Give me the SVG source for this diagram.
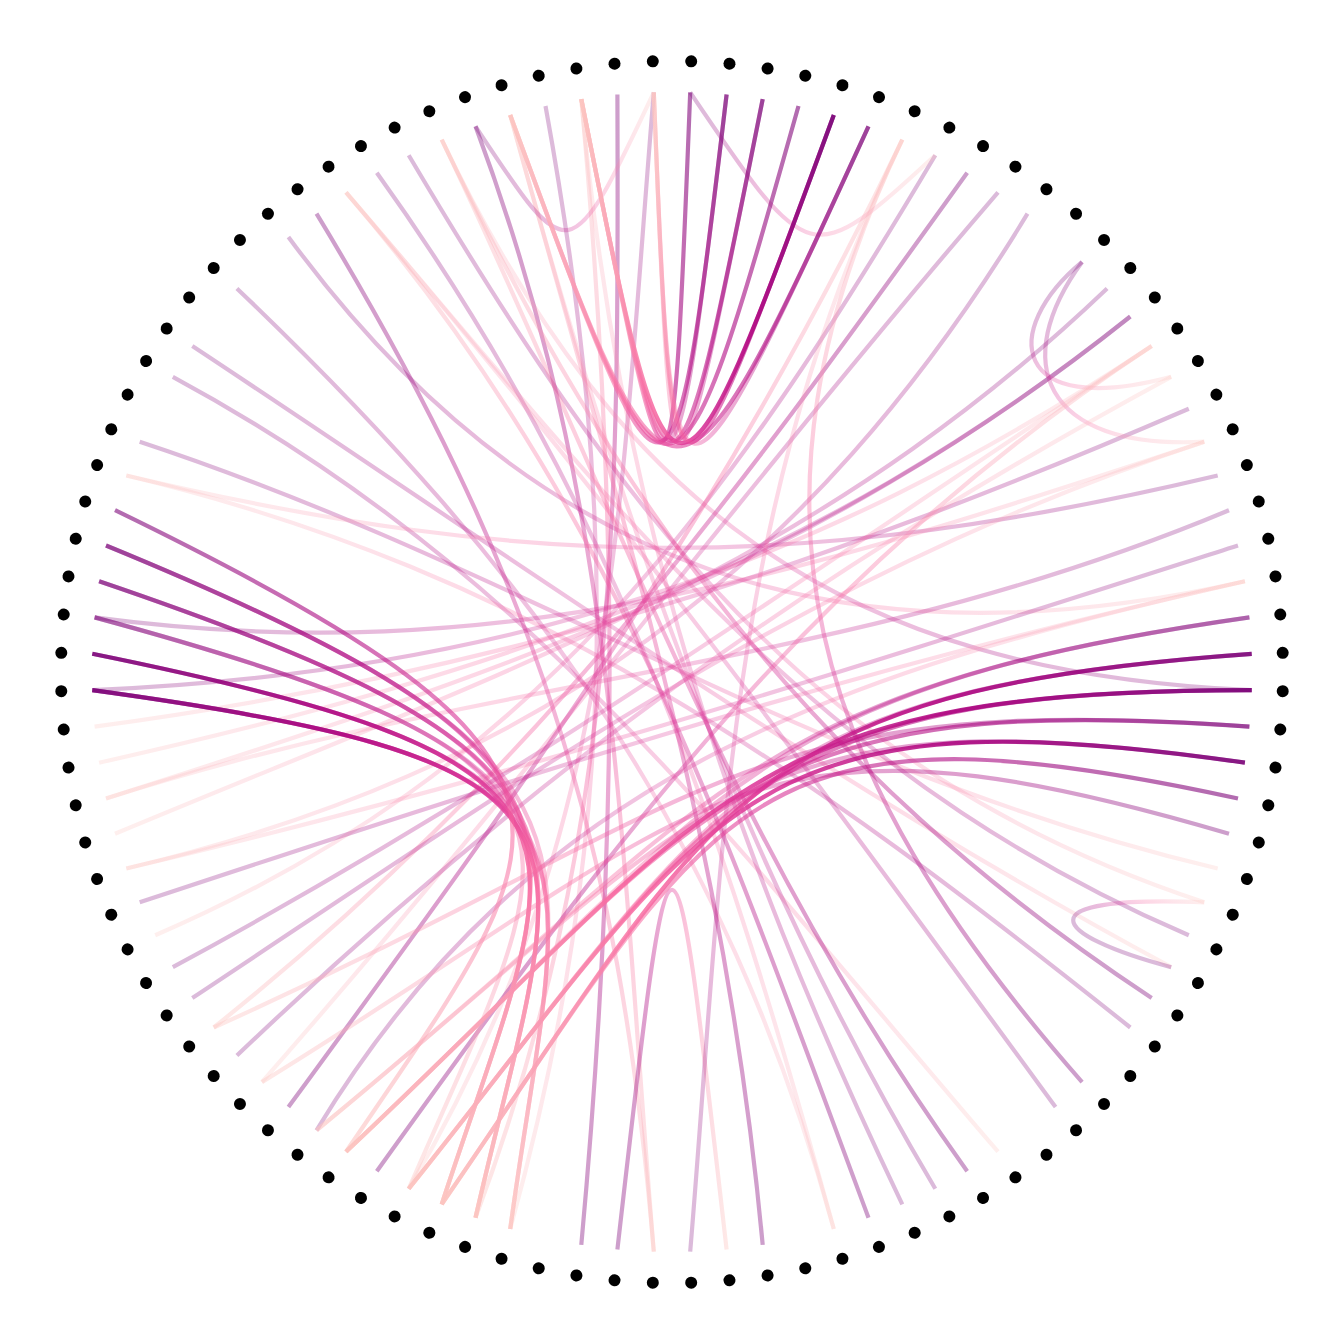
<svg xmlns="http://www.w3.org/2000/svg" width="1344" height="1344" viewBox="0 0 1344 1344">
<style>
.e{fill:none;stroke-width:4.2}
.o1{stroke-opacity:.27}.o2{stroke-opacity:.38}.o3{stroke-opacity:.58}.o4{stroke-opacity:.85}
.dot{fill:#000}
</style>
<defs>
<linearGradient id="rp" gradientUnits="userSpaceOnUse">
<stop offset="0" stop-color="#7a0177"/><stop offset=".28" stop-color="#ae017e"/><stop offset=".48" stop-color="#dd3497"/><stop offset=".64" stop-color="#f768a1"/><stop offset=".82" stop-color="#fa9fb5"/><stop offset="1" stop-color="#fcc5c0"/>
</linearGradient>
<circle id="dot" class="dot" cx="1283" cy="672" r="6"/>
<linearGradient id="ge1" href="#rp" gradientUnits="userSpaceOnUse" x1="139.7" y1="441.7" x2="1217.7" y2="868.5"/>
<linearGradient id="ge2" href="#rp" gradientUnits="userSpaceOnUse" x1="172.8" y1="376.8" x2="998" y2="1151.7"/>
<linearGradient id="ge3" href="#rp" gradientUnits="userSpaceOnUse" x1="192.3" y1="346" x2="1171.2" y2="967.2"/>
<linearGradient id="ge4" href="#rp" gradientUnits="userSpaceOnUse" x1="236.9" y1="288.4" x2="833.8" y2="1229"/>
<linearGradient id="ge5" href="#rp" gradientUnits="userSpaceOnUse" x1="288.4" y1="236.9" x2="1244.9" y2="581.3"/>
<linearGradient id="ge6" href="#rp" gradientUnits="userSpaceOnUse" x1="316.5" y1="213.7" x2="653.8" y2="1251.7"/>
<linearGradient id="ge7" href="#rp" gradientUnits="userSpaceOnUse" x1="376.8" y1="172.8" x2="833.8" y2="1229"/>
<linearGradient id="ge8" href="#rp" gradientUnits="userSpaceOnUse" x1="408.7" y1="155.2" x2="1204.3" y2="902.3"/>
<linearGradient id="ge9" href="#rp" gradientUnits="userSpaceOnUse" x1="475.5" y1="126.3" x2="653.8" y2="1251.7"/>
<linearGradient id="ge10" href="#rp" gradientUnits="userSpaceOnUse" x1="545.5" y1="106" x2="510.2" y2="1229"/>
<linearGradient id="ge11" href="#rp" gradientUnits="userSpaceOnUse" x1="617.4" y1="94.6" x2="475.5" y2="1217.7"/>
<linearGradient id="ge12" href="#rp" gradientUnits="userSpaceOnUse" x1="653.8" y1="92.3" x2="408.7" y2="1188.8"/>
<linearGradient id="ge13" href="#rp" gradientUnits="userSpaceOnUse" x1="935.3" y1="155.2" x2="155.2" y2="935.3"/>
<linearGradient id="ge14" href="#rp" gradientUnits="userSpaceOnUse" x1="967.2" y1="172.8" x2="213.7" y2="1027.5"/>
<linearGradient id="ge15" href="#rp" gradientUnits="userSpaceOnUse" x1="998" y1="192.3" x2="261.9" y2="1082.1"/>
<linearGradient id="ge16" href="#rp" gradientUnits="userSpaceOnUse" x1="1027.5" y1="213.7" x2="126.3" y2="868.5"/>
<linearGradient id="ge17" href="#rp" gradientUnits="userSpaceOnUse" x1="1107.1" y1="288.4" x2="115" y2="833.8"/>
<linearGradient id="ge18" href="#rp" gradientUnits="userSpaceOnUse" x1="1130.3" y1="316.5" x2="99.1" y2="762.7"/>
<linearGradient id="ge19" href="#rp" gradientUnits="userSpaceOnUse" x1="1188.8" y1="408.7" x2="94.6" y2="726.6"/>
<linearGradient id="ge20" href="#rp" gradientUnits="userSpaceOnUse" x1="1130.3" y1="316.5" x2="106" y2="798.5"/>
<linearGradient id="ge21" href="#rp" gradientUnits="userSpaceOnUse" x1="1082.1" y1="261.9" x2="1171.2" y2="376.8"/>
<linearGradient id="ge22" href="#rp" gradientUnits="userSpaceOnUse" x1="1082.1" y1="261.9" x2="1204.3" y2="441.7"/>
<linearGradient id="ge23" href="#rp" gradientUnits="userSpaceOnUse" x1="1217.7" y1="475.5" x2="126.3" y2="475.5"/>
<linearGradient id="ge24" href="#rp" gradientUnits="userSpaceOnUse" x1="1229" y1="510.2" x2="106" y2="798.5"/>
<linearGradient id="ge25" href="#rp" gradientUnits="userSpaceOnUse" x1="1238" y1="545.5" x2="126.3" y2="868.5"/>
<linearGradient id="ge26" href="#rp" gradientUnits="userSpaceOnUse" x1="1251.7" y1="690.2" x2="441.7" y2="139.7"/>
<linearGradient id="ge27" href="#rp" gradientUnits="userSpaceOnUse" x1="1188.8" y1="935.3" x2="346" y2="192.3"/>
<linearGradient id="ge28" href="#rp" gradientUnits="userSpaceOnUse" x1="1151.7" y1="998" x2="441.7" y2="139.7"/>
<linearGradient id="ge29" href="#rp" gradientUnits="userSpaceOnUse" x1="1130.3" y1="1027.5" x2="126.3" y2="475.5"/>
<linearGradient id="ge30" href="#rp" gradientUnits="userSpaceOnUse" x1="1082.1" y1="1082.1" x2="902.3" y2="139.7"/>
<linearGradient id="ge31" href="#rp" gradientUnits="userSpaceOnUse" x1="1055.6" y1="1107.1" x2="346" y2="192.3"/>
<linearGradient id="ge32" href="#rp" gradientUnits="userSpaceOnUse" x1="967.2" y1="1171.2" x2="441.7" y2="139.7"/>
<linearGradient id="ge33" href="#rp" gradientUnits="userSpaceOnUse" x1="935.3" y1="1188.8" x2="510.2" y2="115"/>
<linearGradient id="ge34" href="#rp" gradientUnits="userSpaceOnUse" x1="902.3" y1="1204.3" x2="581.3" y2="99.1"/>
<linearGradient id="ge35" href="#rp" gradientUnits="userSpaceOnUse" x1="868.5" y1="1217.7" x2="346" y2="192.3"/>
<linearGradient id="ge36" href="#rp" gradientUnits="userSpaceOnUse" x1="762.7" y1="1244.9" x2="510.2" y2="115"/>
<linearGradient id="ge37" href="#rp" gradientUnits="userSpaceOnUse" x1="617.4" y1="1249.4" x2="726.6" y2="1249.4"/>
<linearGradient id="ge38" href="#rp" gradientUnits="userSpaceOnUse" x1="690.2" y1="1251.7" x2="902.3" y2="139.7"/>
<linearGradient id="ge39" href="#rp" gradientUnits="userSpaceOnUse" x1="581.3" y1="1244.9" x2="581.3" y2="99.1"/>
<linearGradient id="ge40" href="#rp" gradientUnits="userSpaceOnUse" x1="376.8" y1="1171.2" x2="1151.7" y2="346"/>
<linearGradient id="ge41" href="#rp" gradientUnits="userSpaceOnUse" x1="288.4" y1="1107.1" x2="902.3" y2="139.7"/>
<linearGradient id="ge42" href="#rp" gradientUnits="userSpaceOnUse" x1="316.5" y1="1130.3" x2="1244.9" y2="581.3"/>
<linearGradient id="ge43" href="#rp" gradientUnits="userSpaceOnUse" x1="236.9" y1="1055.6" x2="1171.2" y2="376.8"/>
<linearGradient id="ge44" href="#rp" gradientUnits="userSpaceOnUse" x1="192.3" y1="998" x2="1204.3" y2="441.7"/>
<linearGradient id="ge45" href="#rp" gradientUnits="userSpaceOnUse" x1="172.8" y1="967.2" x2="1151.7" y2="346"/>
<linearGradient id="ge46" href="#rp" gradientUnits="userSpaceOnUse" x1="139.7" y1="902.3" x2="1244.9" y2="581.3"/>
<linearGradient id="ge47" href="#rp" gradientUnits="userSpaceOnUse" x1="92.3" y1="690.2" x2="1151.7" y2="346"/>
<linearGradient id="ge48" href="#rp" gradientUnits="userSpaceOnUse" x1="94.6" y1="617.4" x2="1204.3" y2="441.7"/>
<linearGradient id="ge49" href="#rp" gradientUnits="userSpaceOnUse" x1="690.2" y1="92.3" x2="935.3" y2="155.2"/>
<linearGradient id="ge50" href="#rp" gradientUnits="userSpaceOnUse" x1="475.5" y1="126.3" x2="653.8" y2="92.3"/>
<linearGradient id="ge51" href="#rp" gradientUnits="userSpaceOnUse" x1="1171.2" y1="967.2" x2="1204.3" y2="902.3"/>
<linearGradient id="gu1" href="#rp" gradientUnits="userSpaceOnUse" x1="690.2" y1="92.3" x2="581.3" y2="99.1"/>
<linearGradient id="gu2" href="#rp" gradientUnits="userSpaceOnUse" x1="726.6" y1="94.6" x2="510.2" y2="115"/>
<linearGradient id="gu3" href="#rp" gradientUnits="userSpaceOnUse" x1="762.7" y1="99.1" x2="581.3" y2="99.1"/>
<linearGradient id="gu4" href="#rp" gradientUnits="userSpaceOnUse" x1="798.5" y1="106" x2="510.2" y2="115"/>
<linearGradient id="gu5" href="#rp" gradientUnits="userSpaceOnUse" x1="833.8" y1="115" x2="581.3" y2="99.1"/>
<linearGradient id="gu6" href="#rp" gradientUnits="userSpaceOnUse" x1="833.8" y1="115" x2="653.8" y2="92.3"/>
<linearGradient id="gu7" href="#rp" gradientUnits="userSpaceOnUse" x1="868.5" y1="126.3" x2="510.2" y2="115"/>
<linearGradient id="gu8" href="#rp" gradientUnits="userSpaceOnUse" x1="762.7" y1="99.1" x2="653.8" y2="92.3"/>
<linearGradient id="gu9" href="#rp" gradientUnits="userSpaceOnUse" x1="726.6" y1="94.6" x2="581.3" y2="99.1"/>
<linearGradient id="gu10" href="#rp" gradientUnits="userSpaceOnUse" x1="868.5" y1="126.3" x2="653.8" y2="92.3"/>
<linearGradient id="gl1" href="#rp" gradientUnits="userSpaceOnUse" x1="92.3" y1="690.2" x2="475.5" y2="1217.7"/>
<linearGradient id="gl2" href="#rp" gradientUnits="userSpaceOnUse" x1="92.3" y1="690.2" x2="510.2" y2="1229"/>
<linearGradient id="gl3" href="#rp" gradientUnits="userSpaceOnUse" x1="92.3" y1="653.8" x2="441.7" y2="1204.3"/>
<linearGradient id="gl4" href="#rp" gradientUnits="userSpaceOnUse" x1="92.3" y1="653.8" x2="510.2" y2="1229"/>
<linearGradient id="gl5" href="#rp" gradientUnits="userSpaceOnUse" x1="94.6" y1="617.4" x2="408.7" y2="1188.8"/>
<linearGradient id="gl6" href="#rp" gradientUnits="userSpaceOnUse" x1="99.1" y1="581.3" x2="475.5" y2="1217.7"/>
<linearGradient id="gl7" href="#rp" gradientUnits="userSpaceOnUse" x1="106" y1="545.5" x2="441.7" y2="1204.3"/>
<linearGradient id="gl8" href="#rp" gradientUnits="userSpaceOnUse" x1="106" y1="545.5" x2="510.2" y2="1229"/>
<linearGradient id="gl9" href="#rp" gradientUnits="userSpaceOnUse" x1="115" y1="510.2" x2="346" y2="1151.7"/>
<linearGradient id="gl10" href="#rp" gradientUnits="userSpaceOnUse" x1="94.6" y1="617.4" x2="475.5" y2="1217.7"/>
<linearGradient id="gl11" href="#rp" gradientUnits="userSpaceOnUse" x1="99.1" y1="581.3" x2="441.7" y2="1204.3"/>
<linearGradient id="gr1" href="#rp" gradientUnits="userSpaceOnUse" x1="1251.7" y1="690.2" x2="346" y2="1151.7"/>
<linearGradient id="gr2" href="#rp" gradientUnits="userSpaceOnUse" x1="1251.7" y1="690.2" x2="408.7" y2="1188.8"/>
<linearGradient id="gr3" href="#rp" gradientUnits="userSpaceOnUse" x1="1251.7" y1="653.8" x2="441.7" y2="1204.3"/>
<linearGradient id="gr4" href="#rp" gradientUnits="userSpaceOnUse" x1="1249.4" y1="726.6" x2="346" y2="1151.7"/>
<linearGradient id="gr5" href="#rp" gradientUnits="userSpaceOnUse" x1="1244.9" y1="762.7" x2="408.7" y2="1188.8"/>
<linearGradient id="gr6" href="#rp" gradientUnits="userSpaceOnUse" x1="1249.4" y1="617.4" x2="316.5" y2="1130.3"/>
<linearGradient id="gr7" href="#rp" gradientUnits="userSpaceOnUse" x1="1238" y1="798.5" x2="441.7" y2="1204.3"/>
<linearGradient id="gr8" href="#rp" gradientUnits="userSpaceOnUse" x1="1229" y1="833.8" x2="261.9" y2="1082.1"/>
<linearGradient id="gr9" href="#rp" gradientUnits="userSpaceOnUse" x1="1251.7" y1="653.8" x2="408.7" y2="1188.8"/>
<linearGradient id="gr10" href="#rp" gradientUnits="userSpaceOnUse" x1="1249.4" y1="726.6" x2="213.7" y2="1027.5"/>
<linearGradient id="gr11" href="#rp" gradientUnits="userSpaceOnUse" x1="1249.4" y1="617.4" x2="346" y2="1151.7"/>
<linearGradient id="gr12" href="#rp" gradientUnits="userSpaceOnUse" x1="1244.9" y1="762.7" x2="316.5" y2="1130.3"/>
</defs>
<rect width="1344" height="1344" fill="#fff"/>
<g id="connectors">
<path class="e o1" stroke="url(#ge1)" d="M139.7,441.7C534,572 810,772 1217.7,868.5"/>
<path class="e o1" stroke="url(#ge2)" d="M172.8,376.8C534,572 725,834 998,1151.7"/>
<path class="e o1" stroke="url(#ge3)" d="M192.3,346C534,572 810,772 1171.2,967.2"/>
<path class="e o1" stroke="url(#ge4)" d="M236.9,288.4C534,572 725,834 833.8,1229"/>
<path class="e o1" stroke="url(#ge5)" d="M288.4,236.9C534,572 842,672 1244.9,581.3"/>
<path class="e o2" stroke="url(#ge6)" d="M316.5,213.7C534,572 619,834 653.8,1251.7"/>
<path class="e o1" stroke="url(#ge7)" d="M376.8,172.8C619,510 725,834 833.8,1229"/>
<path class="e o1" stroke="url(#ge8)" d="M408.7,155.2C619,510 810,772 1204.3,902.3"/>
<path class="e o2" stroke="url(#ge9)" d="M475.5,126.3C619,510 619,834 653.8,1251.7"/>
<path class="e o1" stroke="url(#ge10)" d="M545.5,106C619,510 619,834 510.2,1229"/>
<path class="e o2" stroke="url(#ge11)" d="M617.4,94.6C619,510 619,834 475.5,1217.7"/>
<path class="e o1" stroke="url(#ge12)" d="M653.8,92.3C619,510 619,834 408.7,1188.8"/>
<path class="e o1" stroke="url(#ge13)" d="M935.3,155.2C725,510 534,772 155.2,935.3"/>
<path class="e o2" stroke="url(#ge14)" d="M967.2,172.8C725,510 534,772 213.7,1027.5"/>
<path class="e o1" stroke="url(#ge15)" d="M998,192.3C725,510 534,772 261.9,1082.1"/>
<path class="e o1" stroke="url(#ge16)" d="M1027.5,213.7C810,572 534,772 126.3,868.5"/>
<path class="e o1" stroke="url(#ge17)" d="M1107.1,288.4C810,572 502,672 115,833.8"/>
<path class="e o1" stroke="url(#ge18)" d="M1130.3,316.5C810,572 502,672 99.1,762.7"/>
<path class="e o1" stroke="url(#ge19)" d="M1188.8,408.7C810,572 502,672 94.6,726.6"/>
<path class="e o1" stroke="url(#ge20)" d="M1130.3,316.5C810,572 502,672 106,798.5"/>
<path class="e o1" stroke="url(#ge21)" d="M1082.1,261.9C1000,330 1010,420 1171.2,376.8"/>
<path class="e o1" stroke="url(#ge22)" d="M1082.1,261.9C1010,360 1040,450 1204.3,441.7"/>
<path class="e o1" stroke="url(#ge23)" d="M1217.7,475.5C810,572 534,572 126.3,475.5"/>
<path class="e o1" stroke="url(#ge24)" d="M1229,510.2C842,672 502,672 106,798.5"/>
<path class="e o1" stroke="url(#ge25)" d="M1238,545.5C842,672 534,772 126.3,868.5"/>
<path class="e o1" stroke="url(#ge26)" d="M1251.7,690.2C842,672 619,510 441.7,139.7"/>
<path class="e o1" stroke="url(#ge27)" d="M1188.8,935.3C810,772 619,510 346,192.3"/>
<path class="e o2" stroke="url(#ge28)" d="M1151.7,998C810,772 619,510 441.7,139.7"/>
<path class="e o1" stroke="url(#ge29)" d="M1130.3,1027.5C810,772 534,572 126.3,475.5"/>
<path class="e o2" stroke="url(#ge30)" d="M1082.1,1082.1C810,772 725,510 902.3,139.7"/>
<path class="e o1" stroke="url(#ge31)" d="M1055.6,1107.1C810,772 619,510 346,192.3"/>
<path class="e o2" stroke="url(#ge32)" d="M967.2,1171.2C725,834 619,510 441.7,139.7"/>
<path class="e o1" stroke="url(#ge33)" d="M935.3,1188.8C725,834 619,510 510.2,115"/>
<path class="e o1" stroke="url(#ge34)" d="M902.3,1204.3C725,834 619,510 581.3,99.1"/>
<path class="e o2" stroke="url(#ge35)" d="M868.5,1217.7C725,834 619,510 346,192.3"/>
<path class="e o2" stroke="url(#ge36)" d="M762.7,1244.9C725,834 619,510 510.2,115"/>
<path class="e o2" stroke="url(#ge37)" d="M617.4,1249.4C672,770 672,770 726.6,1249.4"/>
<path class="e o1" stroke="url(#ge38)" d="M690.2,1251.7C725,834 725,510 902.3,139.7"/>
<path class="e o2" stroke="url(#ge39)" d="M581.3,1244.9C619,834 619,510 581.3,99.1"/>
<path class="e o2" stroke="url(#ge40)" d="M376.8,1171.2C619,834 810,572 1151.7,346"/>
<path class="e o2" stroke="url(#ge41)" d="M288.4,1107.1C534,772 725,510 902.3,139.7"/>
<path class="e o1" stroke="url(#ge42)" d="M316.5,1130.3C534,772 842,672 1244.9,581.3"/>
<path class="e o1" stroke="url(#ge43)" d="M236.9,1055.6C534,772 810,572 1171.2,376.8"/>
<path class="e o1" stroke="url(#ge44)" d="M192.3,998C534,772 810,572 1204.3,441.7"/>
<path class="e o1" stroke="url(#ge45)" d="M172.8,967.2C534,772 810,572 1151.7,346"/>
<path class="e o1" stroke="url(#ge46)" d="M139.7,902.3C534,772 842,672 1244.9,581.3"/>
<path class="e o1" stroke="url(#ge47)" d="M92.3,690.2C502,672 810,572 1151.7,346"/>
<path class="e o1" stroke="url(#ge48)" d="M94.6,617.4C502,672 810,572 1204.3,441.7"/>
<path class="e o1" stroke="url(#ge49)" d="M690.2,92.3C810,270 810,270 935.3,155.2"/>
<path class="e o1" stroke="url(#ge50)" d="M475.5,126.3C570,270 570,270 653.8,92.3"/>
<path class="e o1" stroke="url(#ge51)" d="M1171.2,967.2C1050,935 1020,895 1204.3,902.3"/>
<path class="e o3" stroke="url(#gu1)" d="M690.2,92.3C672,555 672,555 581.3,99.1"/>
<path class="e o3" stroke="url(#gu2)" d="M726.6,94.6C672,555 672,555 510.2,115"/>
<path class="e o3" stroke="url(#gu3)" d="M762.7,99.1C672,555 672,555 581.3,99.1"/>
<path class="e o3" stroke="url(#gu4)" d="M798.5,106C672,555 672,555 510.2,115"/>
<path class="e o4" stroke="url(#gu5)" d="M833.8,115C672,555 672,555 581.3,99.1"/>
<path class="e o3" stroke="url(#gu6)" d="M833.8,115C672,555 672,555 653.8,92.3"/>
<path class="e o3" stroke="url(#gu7)" d="M868.5,126.3C672,555 672,555 510.2,115"/>
<path class="e o2" stroke="url(#gu8)" d="M762.7,99.1C672,555 672,555 653.8,92.3"/>
<path class="e o2" stroke="url(#gu9)" d="M726.6,94.6C672,555 672,555 581.3,99.1"/>
<path class="e o2" stroke="url(#gu10)" d="M868.5,126.3C672,555 672,555 653.8,92.3"/>
<path class="e o4" stroke="url(#gl1)" d="M92.3,690.2C640,765 565,830 475.5,1217.7"/>
<path class="e o3" stroke="url(#gl2)" d="M92.3,690.2C640,765 565,830 510.2,1229"/>
<path class="e o4" stroke="url(#gl3)" d="M92.3,653.8C640,765 565,830 441.7,1204.3"/>
<path class="e o2" stroke="url(#gl4)" d="M92.3,653.8C640,765 565,830 510.2,1229"/>
<path class="e o2" stroke="url(#gl5)" d="M94.6,617.4C640,765 565,830 408.7,1188.8"/>
<path class="e o3" stroke="url(#gl6)" d="M99.1,581.3C640,765 565,830 475.5,1217.7"/>
<path class="e o3" stroke="url(#gl7)" d="M106,545.5C640,765 565,830 441.7,1204.3"/>
<path class="e o2" stroke="url(#gl8)" d="M106,545.5C640,765 565,830 510.2,1229"/>
<path class="e o3" stroke="url(#gl9)" d="M115,510.2C640,765 565,830 346,1151.7"/>
<path class="e o2" stroke="url(#gl10)" d="M94.6,617.4C640,765 565,830 475.5,1217.7"/>
<path class="e o2" stroke="url(#gl11)" d="M99.1,581.3C640,765 565,830 441.7,1204.3"/>
<path class="e o4" stroke="url(#gr1)" d="M1251.7,690.2C740,690 720,800 346,1151.7"/>
<path class="e o3" stroke="url(#gr2)" d="M1251.7,690.2C740,690 720,800 408.7,1188.8"/>
<path class="e o4" stroke="url(#gr3)" d="M1251.7,653.8C740,690 720,800 441.7,1204.3"/>
<path class="e o3" stroke="url(#gr4)" d="M1249.4,726.6C740,690 720,800 346,1151.7"/>
<path class="e o4" stroke="url(#gr5)" d="M1244.9,762.7C740,690 720,800 408.7,1188.8"/>
<path class="e o2" stroke="url(#gr6)" d="M1249.4,617.4C740,690 720,800 316.5,1130.3"/>
<path class="e o3" stroke="url(#gr7)" d="M1238,798.5C740,690 720,800 441.7,1204.3"/>
<path class="e o2" stroke="url(#gr8)" d="M1229,833.8C740,690 720,800 261.9,1082.1"/>
<path class="e o2" stroke="url(#gr9)" d="M1251.7,653.8C740,690 720,800 408.7,1188.8"/>
<path class="e o2" stroke="url(#gr10)" d="M1249.4,726.6C740,690 720,800 213.7,1027.5"/>
<path class="e o2" stroke="url(#gr11)" d="M1249.4,617.4C740,690 720,800 346,1151.7"/>
<path class="e o2" stroke="url(#gr12)" d="M1244.9,762.7C740,690 720,800 316.5,1130.3"/>
</g>
<g id="nodes">
<g id="n0"><use href="#dot" transform="rotate(1.8 672 672)"/></g>
<g id="n1"><use href="#dot" transform="rotate(5.4 672 672)"/></g>
<g id="n2"><use href="#dot" transform="rotate(9 672 672)"/></g>
<g id="n3"><use href="#dot" transform="rotate(12.6 672 672)"/></g>
<g id="n4"><use href="#dot" transform="rotate(16.2 672 672)"/></g>
<g id="n5"><use href="#dot" transform="rotate(19.8 672 672)"/></g>
<g id="n6"><use href="#dot" transform="rotate(23.4 672 672)"/></g>
<g id="n7"><use href="#dot" transform="rotate(27 672 672)"/></g>
<g id="n8"><use href="#dot" transform="rotate(30.6 672 672)"/></g>
<g id="n9"><use href="#dot" transform="rotate(34.2 672 672)"/></g>
<g id="n10"><use href="#dot" transform="rotate(37.8 672 672)"/></g>
<g id="n11"><use href="#dot" transform="rotate(41.4 672 672)"/></g>
<g id="n12"><use href="#dot" transform="rotate(45 672 672)"/></g>
<g id="n13"><use href="#dot" transform="rotate(48.6 672 672)"/></g>
<g id="n14"><use href="#dot" transform="rotate(52.2 672 672)"/></g>
<g id="n15"><use href="#dot" transform="rotate(55.8 672 672)"/></g>
<g id="n16"><use href="#dot" transform="rotate(59.4 672 672)"/></g>
<g id="n17"><use href="#dot" transform="rotate(63 672 672)"/></g>
<g id="n18"><use href="#dot" transform="rotate(66.6 672 672)"/></g>
<g id="n19"><use href="#dot" transform="rotate(70.2 672 672)"/></g>
<g id="n20"><use href="#dot" transform="rotate(73.8 672 672)"/></g>
<g id="n21"><use href="#dot" transform="rotate(77.4 672 672)"/></g>
<g id="n22"><use href="#dot" transform="rotate(81 672 672)"/></g>
<g id="n23"><use href="#dot" transform="rotate(84.6 672 672)"/></g>
<g id="n24"><use href="#dot" transform="rotate(88.2 672 672)"/></g>
<g id="n25"><use href="#dot" transform="rotate(91.8 672 672)"/></g>
<g id="n26"><use href="#dot" transform="rotate(95.4 672 672)"/></g>
<g id="n27"><use href="#dot" transform="rotate(99 672 672)"/></g>
<g id="n28"><use href="#dot" transform="rotate(102.6 672 672)"/></g>
<g id="n29"><use href="#dot" transform="rotate(106.2 672 672)"/></g>
<g id="n30"><use href="#dot" transform="rotate(109.8 672 672)"/></g>
<g id="n31"><use href="#dot" transform="rotate(113.4 672 672)"/></g>
<g id="n32"><use href="#dot" transform="rotate(117 672 672)"/></g>
<g id="n33"><use href="#dot" transform="rotate(120.6 672 672)"/></g>
<g id="n34"><use href="#dot" transform="rotate(124.2 672 672)"/></g>
<g id="n35"><use href="#dot" transform="rotate(127.8 672 672)"/></g>
<g id="n36"><use href="#dot" transform="rotate(131.4 672 672)"/></g>
<g id="n37"><use href="#dot" transform="rotate(135 672 672)"/></g>
<g id="n38"><use href="#dot" transform="rotate(138.6 672 672)"/></g>
<g id="n39"><use href="#dot" transform="rotate(142.2 672 672)"/></g>
<g id="n40"><use href="#dot" transform="rotate(145.8 672 672)"/></g>
<g id="n41"><use href="#dot" transform="rotate(149.4 672 672)"/></g>
<g id="n42"><use href="#dot" transform="rotate(153 672 672)"/></g>
<g id="n43"><use href="#dot" transform="rotate(156.6 672 672)"/></g>
<g id="n44"><use href="#dot" transform="rotate(160.2 672 672)"/></g>
<g id="n45"><use href="#dot" transform="rotate(163.8 672 672)"/></g>
<g id="n46"><use href="#dot" transform="rotate(167.4 672 672)"/></g>
<g id="n47"><use href="#dot" transform="rotate(171 672 672)"/></g>
<g id="n48"><use href="#dot" transform="rotate(174.6 672 672)"/></g>
<g id="n49"><use href="#dot" transform="rotate(178.2 672 672)"/></g>
<g id="n50"><use href="#dot" transform="rotate(181.8 672 672)"/></g>
<g id="n51"><use href="#dot" transform="rotate(185.4 672 672)"/></g>
<g id="n52"><use href="#dot" transform="rotate(189 672 672)"/></g>
<g id="n53"><use href="#dot" transform="rotate(192.6 672 672)"/></g>
<g id="n54"><use href="#dot" transform="rotate(196.2 672 672)"/></g>
<g id="n55"><use href="#dot" transform="rotate(199.8 672 672)"/></g>
<g id="n56"><use href="#dot" transform="rotate(203.4 672 672)"/></g>
<g id="n57"><use href="#dot" transform="rotate(207 672 672)"/></g>
<g id="n58"><use href="#dot" transform="rotate(210.6 672 672)"/></g>
<g id="n59"><use href="#dot" transform="rotate(214.2 672 672)"/></g>
<g id="n60"><use href="#dot" transform="rotate(217.8 672 672)"/></g>
<g id="n61"><use href="#dot" transform="rotate(221.4 672 672)"/></g>
<g id="n62"><use href="#dot" transform="rotate(225 672 672)"/></g>
<g id="n63"><use href="#dot" transform="rotate(228.6 672 672)"/></g>
<g id="n64"><use href="#dot" transform="rotate(232.2 672 672)"/></g>
<g id="n65"><use href="#dot" transform="rotate(235.8 672 672)"/></g>
<g id="n66"><use href="#dot" transform="rotate(239.4 672 672)"/></g>
<g id="n67"><use href="#dot" transform="rotate(243 672 672)"/></g>
<g id="n68"><use href="#dot" transform="rotate(246.6 672 672)"/></g>
<g id="n69"><use href="#dot" transform="rotate(250.2 672 672)"/></g>
<g id="n70"><use href="#dot" transform="rotate(253.8 672 672)"/></g>
<g id="n71"><use href="#dot" transform="rotate(257.4 672 672)"/></g>
<g id="n72"><use href="#dot" transform="rotate(261 672 672)"/></g>
<g id="n73"><use href="#dot" transform="rotate(264.6 672 672)"/></g>
<g id="n74"><use href="#dot" transform="rotate(268.2 672 672)"/></g>
<g id="n75"><use href="#dot" transform="rotate(271.8 672 672)"/></g>
<g id="n76"><use href="#dot" transform="rotate(275.4 672 672)"/></g>
<g id="n77"><use href="#dot" transform="rotate(279 672 672)"/></g>
<g id="n78"><use href="#dot" transform="rotate(282.6 672 672)"/></g>
<g id="n79"><use href="#dot" transform="rotate(286.2 672 672)"/></g>
<g id="n80"><use href="#dot" transform="rotate(289.8 672 672)"/></g>
<g id="n81"><use href="#dot" transform="rotate(293.4 672 672)"/></g>
<g id="n82"><use href="#dot" transform="rotate(297 672 672)"/></g>
<g id="n83"><use href="#dot" transform="rotate(300.6 672 672)"/></g>
<g id="n84"><use href="#dot" transform="rotate(304.2 672 672)"/></g>
<g id="n85"><use href="#dot" transform="rotate(307.8 672 672)"/></g>
<g id="n86"><use href="#dot" transform="rotate(311.4 672 672)"/></g>
<g id="n87"><use href="#dot" transform="rotate(315 672 672)"/></g>
<g id="n88"><use href="#dot" transform="rotate(318.6 672 672)"/></g>
<g id="n89"><use href="#dot" transform="rotate(322.2 672 672)"/></g>
<g id="n90"><use href="#dot" transform="rotate(325.8 672 672)"/></g>
<g id="n91"><use href="#dot" transform="rotate(329.4 672 672)"/></g>
<g id="n92"><use href="#dot" transform="rotate(333 672 672)"/></g>
<g id="n93"><use href="#dot" transform="rotate(336.6 672 672)"/></g>
<g id="n94"><use href="#dot" transform="rotate(340.2 672 672)"/></g>
<g id="n95"><use href="#dot" transform="rotate(343.8 672 672)"/></g>
<g id="n96"><use href="#dot" transform="rotate(347.4 672 672)"/></g>
<g id="n97"><use href="#dot" transform="rotate(351 672 672)"/></g>
<g id="n98"><use href="#dot" transform="rotate(354.6 672 672)"/></g>
<g id="n99"><use href="#dot" transform="rotate(358.2 672 672)"/></g>
</g>
</svg>
